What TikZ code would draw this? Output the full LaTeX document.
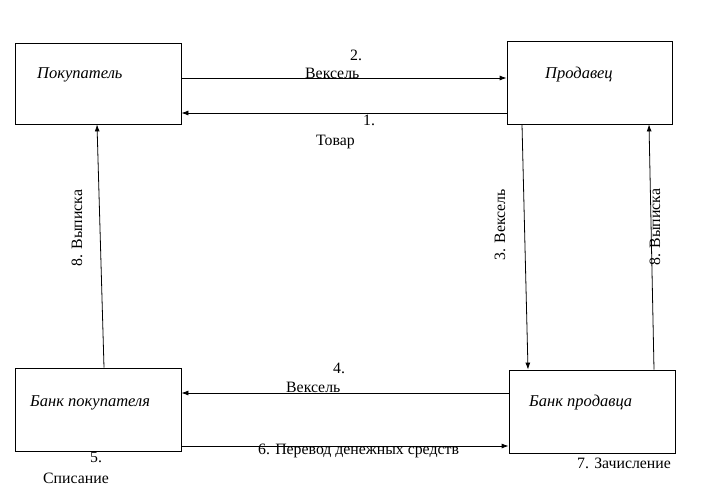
\documentclass[tikz,border=0pt]{standalone}
\usepackage{fontspec}
\setmainfont{Liberation Serif}
\usetikzlibrary{arrows.meta}
\begin{document}
\begin{tikzpicture}[x=1pt,y=-1pt,
  box/.style={draw,line width=0.8pt,inner sep=0pt},
  lbl/.style={inner sep=0pt,font=\fontsize{15.8}{18}\selectfont},
  ilbl/.style={inner sep=0pt,font=\fontsize{16.5}{18}\selectfont\itshape},
  arr/.style={draw,line width=0.8pt,-{Latex[length=7pt,width=5pt]}}]
\useasboundingbox (0,0) rectangle (701,490);
\node[box,minimum width=166pt,minimum height=81pt] (buyer) at (98,83.5) {};
\node[box,minimum width=165pt,minimum height=83pt] (seller) at (589.5,82.5) {};
\node[box,minimum width=166pt,minimum height=83pt] (bbank) at (98,409.5) {};
\node[box,minimum width=166pt,minimum height=83pt] (sbank) at (592,411.5) {};
\node[ilbl,anchor=base west] (tbuyer) at (37,78) {Покупатель};
\node[ilbl,anchor=base west] (tseller) at (545,78) {Продавец};
\node[ilbl,anchor=base west] (tbbank) at (30,406) {Банк покупателя};
\node[ilbl,anchor=base west] (tsbank) at (529,406) {Банк продавца};
% arrows
\draw[arr] ([yshift=5.5pt]buyer.east) -- ([yshift=4.5pt]seller.west);
\draw[arr] ([yshift=-30.5pt]seller.west) -- ([yshift=-29.5pt]buyer.east);
\draw[arr] ([xshift=6pt]bbank.north) -- ([xshift=-1pt]buyer.south);
\draw[arr] ([xshift=-67.5pt]seller.south) -- ([xshift=-64pt]sbank.north);
\draw[arr] ([xshift=62pt]sbank.north) -- ([xshift=59.5pt]seller.south);
\draw[arr] ([yshift=18.5pt]sbank.west) -- ([yshift=16.5pt]bbank.east);
\draw[arr] ([yshift=-36.5pt]bbank.east) -- ([yshift=-34.5pt]sbank.west);
% labels
\node[lbl,anchor=base west] (l2) at (350,60) {2.};
\node[lbl,anchor=base west] (l2b) at (305,78) {Вексель};
\node[lbl,anchor=base west] (l1) at (363,125) {1.};
\node[lbl,anchor=base west] (l1b) at (316,145) {Товар};
\node[lbl,rotate=90] (l8a) at (77,228) {8. Выписка};
\node[lbl,rotate=90] (l3) at (500,225) {3. Вексель};
\node[lbl,rotate=90] (l8b) at (655,227) {8. Выписка};
\node[lbl,anchor=base west] (l4) at (333,373) {4.};
\node[lbl,anchor=base west] (l4b) at (286,392) {Вексель};
\node[lbl,anchor=base west] (l6) at (258,454) {6. Перевод денежных средств};
\node[lbl,anchor=base west] (l5) at (90,462) {5.};
\node[lbl,anchor=base west] (l5b) at (43,483) {Списание};
\node[lbl,anchor=base west] (l7) at (577,468) {7. Зачисление};
\end{tikzpicture}
\end{document}
